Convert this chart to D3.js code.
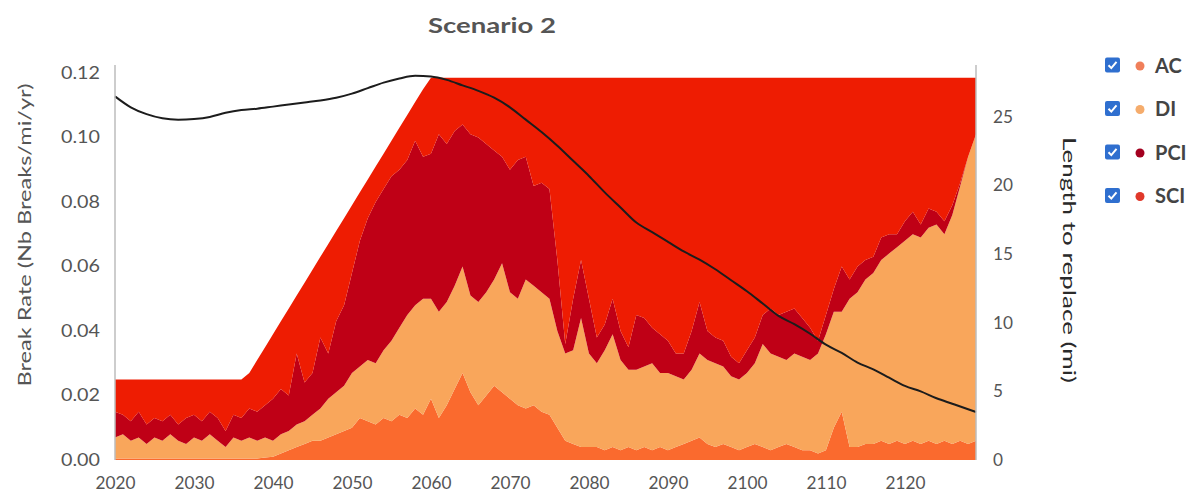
<!DOCTYPE html>
<html>
<head>
<meta charset="utf-8">
<script src="https://cdn.jsdelivr.net/npm/d3@7"></script>
<style>
  html, body { margin: 0; padding: 0; background: #fff; }
  svg { display: block; font-family: Lato, "Open Sans", sans-serif; }
</style>
</head>
<body>
<svg id="chart" width="1198" height="495"></svg>
<script>
// Break rate by failure mode, stacked (Nb Breaks/mi/yr), one value per year 2020-2129
const startYear = 2020;
const endYear = 2129;

const AC = [
  0.0005,0.0005,0.0005,0.0005,0.0005,0.0005,0.0005,0.0005,0.0005,0.0005,
  0.0005,0.0005,0.0005,0.0005,0.0005,0.0005,0.0005,0.0005,0.0005,0.0008,
  0.001,0.002,0.003,0.004,0.005,0.006,0.006,0.007,0.008,0.009,
  0.010,0.013,0.012,0.011,0.013,0.012,0.014,0.013,0.016,0.014,
  0.019,0.013,0.017,0.022,0.027,0.021,0.017,0.020,0.023,0.021,
  0.019,0.017,0.016,0.017,0.015,0.014,0.010,0.006,0.005,0.004,
  0.004,0.004,0.003,0.004,0.003,0.004,0.003,0.004,0.003,0.004,
  0.003,0.004,0.005,0.006,0.007,0.005,0.004,0.005,0.004,0.003,
  0.004,0.005,0.004,0.003,0.004,0.005,0.004,0.003,0.003,0.002,
  0.003,0.010,0.015,0.004,0.004,0.005,0.005,0.006,0.005,0.006,
  0.005,0.006,0.005,0.006,0.005,0.006,0.005,0.006,0.005,0.006
];

const DI = [
  0.0065,0.0075,0.0055,0.0065,0.0045,0.0065,0.0055,0.0075,0.0055,0.0045,
  0.0065,0.0055,0.0075,0.0055,0.0035,0.0065,0.0055,0.0065,0.0055,0.0062,
  0.005,0.006,0.006,0.007,0.007,0.008,0.010,0.012,0.013,0.014,
  0.017,0.016,0.019,0.019,0.021,0.025,0.027,0.032,0.032,0.036,
  0.031,0.033,0.032,0.032,0.033,0.030,0.032,0.032,0.033,0.040,
  0.033,0.033,0.040,0.037,0.037,0.036,0.030,0.027,0.029,0.040,
  0.029,0.026,0.031,0.035,0.028,0.024,0.025,0.025,0.027,0.023,
  0.024,0.022,0.020,0.022,0.026,0.026,0.026,0.024,0.022,0.022,
  0.023,0.025,0.032,0.030,0.028,0.026,0.029,0.029,0.028,0.031,
  0.036,0.036,0.031,0.046,0.048,0.051,0.053,0.056,0.059,0.060,
  0.063,0.064,0.064,0.066,0.068,0.064,0.071,0.079,0.089,0.095
];

const PCI = [
  0.008,0.006,0.006,0.008,0.006,0.006,0.006,0.006,0.005,0.008,
  0.007,0.006,0.007,0.007,0.005,0.007,0.007,0.009,0.009,0.010,
  0.013,0.014,0.011,0.022,0.012,0.013,0.022,0.014,0.022,0.025,
  0.031,0.039,0.044,0.050,0.050,0.051,0.049,0.048,0.051,0.044,
  0.045,0.055,0.049,0.048,0.044,0.050,0.051,0.046,0.040,0.033,
  0.038,0.043,0.038,0.031,0.034,0.034,0.022,0.003,0.016,0.018,
  0.017,0.008,0.008,0.011,0.009,0.007,0.017,0.015,0.011,0.012,
  0.010,0.007,0.008,0.012,0.016,0.009,0.008,0.008,0.006,0.005,
  0.007,0.008,0.009,0.014,0.013,0.015,0.014,0.012,0.010,0.004,
  0.006,0.007,0.014,0.006,0.008,0.006,0.005,0.007,0.006,0.004,
  0.006,0.007,0.004,0.006,0.004,0.004,0.003,0.001,0,0
];

const SCI = [
  0.010,0.011,0.013,0.010,0.014,0.012,0.013,0.011,0.014,0.012,
  0.011,0.013,0.010,0.012,0.016,0.011,0.012,0.011,0.016,0.018,
  0.020,0.021,0.027,0.018,0.031,0.032,0.025,0.034,0.028,0.027,
  0.021,0.015,0.012,0.011,0.011,0.011,0.013,0.014,0.012,0.021,
  0.0235,0.0175,0.0205,0.0165,0.0145,0.0175,0.0185,0.0205,0.0225,0.0245,
  0.0285,0.0255,0.0245,0.0335,0.0325,0.0345,0.0565,0.0825,0.0685,0.0565,
  0.0685,0.0805,0.0765,0.0685,0.0785,0.0835,0.0735,0.0745,0.0775,0.0795,
  0.0815,0.0855,0.0855,0.0785,0.0695,0.0785,0.0805,0.0815,0.0865,0.0885,
  0.0845,0.0805,0.0735,0.0715,0.0735,0.0725,0.0715,0.0745,0.0775,0.0815,
  0.0735,0.0655,0.0585,0.0625,0.0585,0.0565,0.0555,0.0495,0.0485,0.0485,
  0.0445,0.0415,0.0455,0.0405,0.0415,0.0445,0.0395,0.0325,0.0245,0.0175
];

// Length to replace (mi), right axis
const lengthYears = [
  2020,2022,2024,2026,2028,2030,2032,2034,2036,2038,2040,2042,2044,2046,2048,
  2050,2052,2054,2056,2058,2060,2062,2064,2066,2068,2070,2072,2074,2076,2078,
  2080,2082,2084,2086,2088,2090,2092,2094,2096,2098,2100,2102,2104,2106,2108,
  2110,2112,2114,2116,2118,2120,2122,2124,2126,2128,2129
];
const lengthValues = [
  26.5,25.7,25.2,24.9,24.8,24.85,25.0,25.3,25.5,25.6,25.75,25.9,26.05,26.2,26.4,
  26.7,27.1,27.5,27.8,28.0,27.95,27.7,27.3,26.9,26.4,25.7,24.8,23.9,22.9,21.8,
  20.7,19.5,18.4,17.3,16.6,15.9,15.2,14.6,13.9,13.1,12.3,11.4,10.5,9.9,9.2,
  8.4,7.8,7.1,6.6,6.0,5.4,5.0,4.5,4.1,3.7,3.5
];

const seriesKeys = ["AC", "DI", "PCI", "SCI"];
const seriesValues = { AC, DI, PCI, SCI };
const areaColors = { AC: "#fa6a2e", DI: "#f9a65b", PCI: "#bf0016", SCI: "#ee1c02" };
const legendColors = { AC: "#f07f5a", DI: "#f5ac6c", PCI: "#a3001f", SCI: "#e0382a" };

const leftTicks = [0, 0.02, 0.04, 0.06, 0.08, 0.10, 0.12];
const rightTicks = [0, 5, 10, 15, 20, 25];
const xTicks = [2020, 2030, 2040, 2050, 2060, 2070, 2080, 2090, 2100, 2110, 2120];

const years = d3.range(startYear, endYear + 1);
const table = years.map((yr, i) => {
  const row = { year: yr };
  seriesKeys.forEach(k => row[k] = seriesValues[k][i]);
  return row;
});

const svg = d3.select("#chart");
const plot = { left: 115, right: 976, top: 73, bottom: 460 };

const x = d3.scaleLinear().domain([startYear, endYear]).range([plot.left, plot.right]);
const y = d3.scaleLinear().domain([0, 0.12]).range([plot.bottom, plot.top]);
const yR = d3.scaleLinear().domain([0, 28.2]).range([plot.bottom, plot.top]);

const stacked = d3.stack().keys(seriesKeys)(table);

const area = d3.area()
  .x(d => x(d.data.year))
  .y0(d => y(d[0]))
  .y1(d => y(d[1]))
  .curve(d3.curveLinear);

svg.append("g")
  .selectAll("path")
  .data(stacked)
  .join("path")
  .attr("d", area)
  .attr("fill", d => areaColors[d.key]);

// Length to replace line
const line = d3.line()
  .x((d, i) => x(lengthYears[i]))
  .y(d => yR(d))
  .curve(d3.curveMonotoneX);

svg.append("path")
  .datum(lengthValues)
  .attr("d", line)
  .attr("fill", "none")
  .attr("stroke", "#1c1c1c")
  .attr("stroke-width", 2);

// Axis lines
svg.append("line")
  .attr("x1", plot.left).attr("x2", plot.left)
  .attr("y1", 65).attr("y2", plot.bottom)
  .attr("stroke", "#bdbdbd").attr("stroke-width", 1.5);
svg.append("line")
  .attr("x1", plot.right).attr("x2", plot.right)
  .attr("y1", 65).attr("y2", plot.bottom)
  .attr("stroke", "#bdbdbd").attr("stroke-width", 1.5);

const tickColor = "#555";
const tickFont = "17px";

const leftAxis = svg.append("g")
  .attr("transform", `translate(${plot.left},0)`)
  .call(d3.axisLeft(y).tickValues(leftTicks).tickFormat(d3.format(".2f")).tickSize(0).tickPadding(15));
leftAxis.select(".domain").remove();
leftAxis.selectAll("text")
  .attr("fill", tickColor).style("font-size", tickFont).style("font-family", "Lato, sans-serif")
  .attr("textLength", 39).attr("lengthAdjust", "spacingAndGlyphs");

const rightAxis = svg.append("g")
  .attr("transform", `translate(${plot.right},0)`)
  .call(d3.axisRight(yR).tickValues(rightTicks).tickFormat(d3.format("d")).tickSize(0).tickPadding(17));
rightAxis.select(".domain").remove();
rightAxis.selectAll("text")
  .attr("fill", tickColor).style("font-size", tickFont).style("font-family", "Lato, sans-serif")
  .attr("textLength", d => String(d).length * 10).attr("lengthAdjust", "spacingAndGlyphs");

const bottomAxis = svg.append("g")
  .attr("transform", `translate(0,${plot.bottom})`)
  .call(d3.axisBottom(x).tickValues(xTicks).tickFormat(d3.format("d")).tickSize(0).tickPadding(17));
bottomAxis.select(".domain").remove();
bottomAxis.selectAll("text")
  .attr("fill", tickColor).style("font-size", tickFont).style("font-family", "Lato, sans-serif")
  .attr("textLength", 40).attr("lengthAdjust", "spacingAndGlyphs");

// Title
svg.append("text")
  .attr("x", 492).attr("y", 33)
  .attr("text-anchor", "middle")
  .attr("fill", "#555")
  .attr("textLength", 128).attr("lengthAdjust", "spacingAndGlyphs")
  .style("font-size", "20px").style("font-weight", "bold")
  .text("Scenario 2");

// Axis titles
svg.append("text")
  .attr("transform", "translate(31,235) rotate(-90)")
  .attr("text-anchor", "middle")
  .attr("fill", "#555")
  .attr("textLength", 303).attr("lengthAdjust", "spacingAndGlyphs")
  .style("font-size", "18px")
  .text("Break Rate (Nb Breaks/mi/yr)");

svg.append("text")
  .attr("transform", "translate(1063,260) rotate(90)")
  .attr("text-anchor", "middle")
  .attr("fill", "#2a2a2a")
  .attr("textLength", 246).attr("lengthAdjust", "spacingAndGlyphs")
  .style("font-size", "18px")
  .text("Length to replace (mi)");

// Legend with checkboxes
const legend = svg.append("g");
const legendItems = legend.selectAll("g")
  .data(seriesKeys)
  .join("g")
  .attr("transform", (d, i) => `translate(1105,${65 + i * 43.5})`);

legendItems.append("rect")
  .attr("x", 0).attr("y", -7.5)
  .attr("width", 15).attr("height", 15)
  .attr("rx", 2)
  .attr("fill", "#2f6fcf");
legendItems.append("path")
  .attr("d", "M3.5,7.8 L6.3,10.6 L11.5,4.3")
  .attr("transform", "translate(0,-7.5)")
  .attr("fill", "none")
  .attr("stroke", "#fff")
  .attr("stroke-width", 2);
legendItems.append("circle")
  .attr("cx", 35).attr("cy", 1)
  .attr("r", 4.5)
  .attr("fill", d => legendColors[d]);
legendItems.append("text")
  .attr("x", 50).attr("y", 7.5)
  .attr("fill", "#444")
  .style("font-size", "20px").style("font-weight", "bold")
  .text(d => d);
</script>
</body>
</html>
